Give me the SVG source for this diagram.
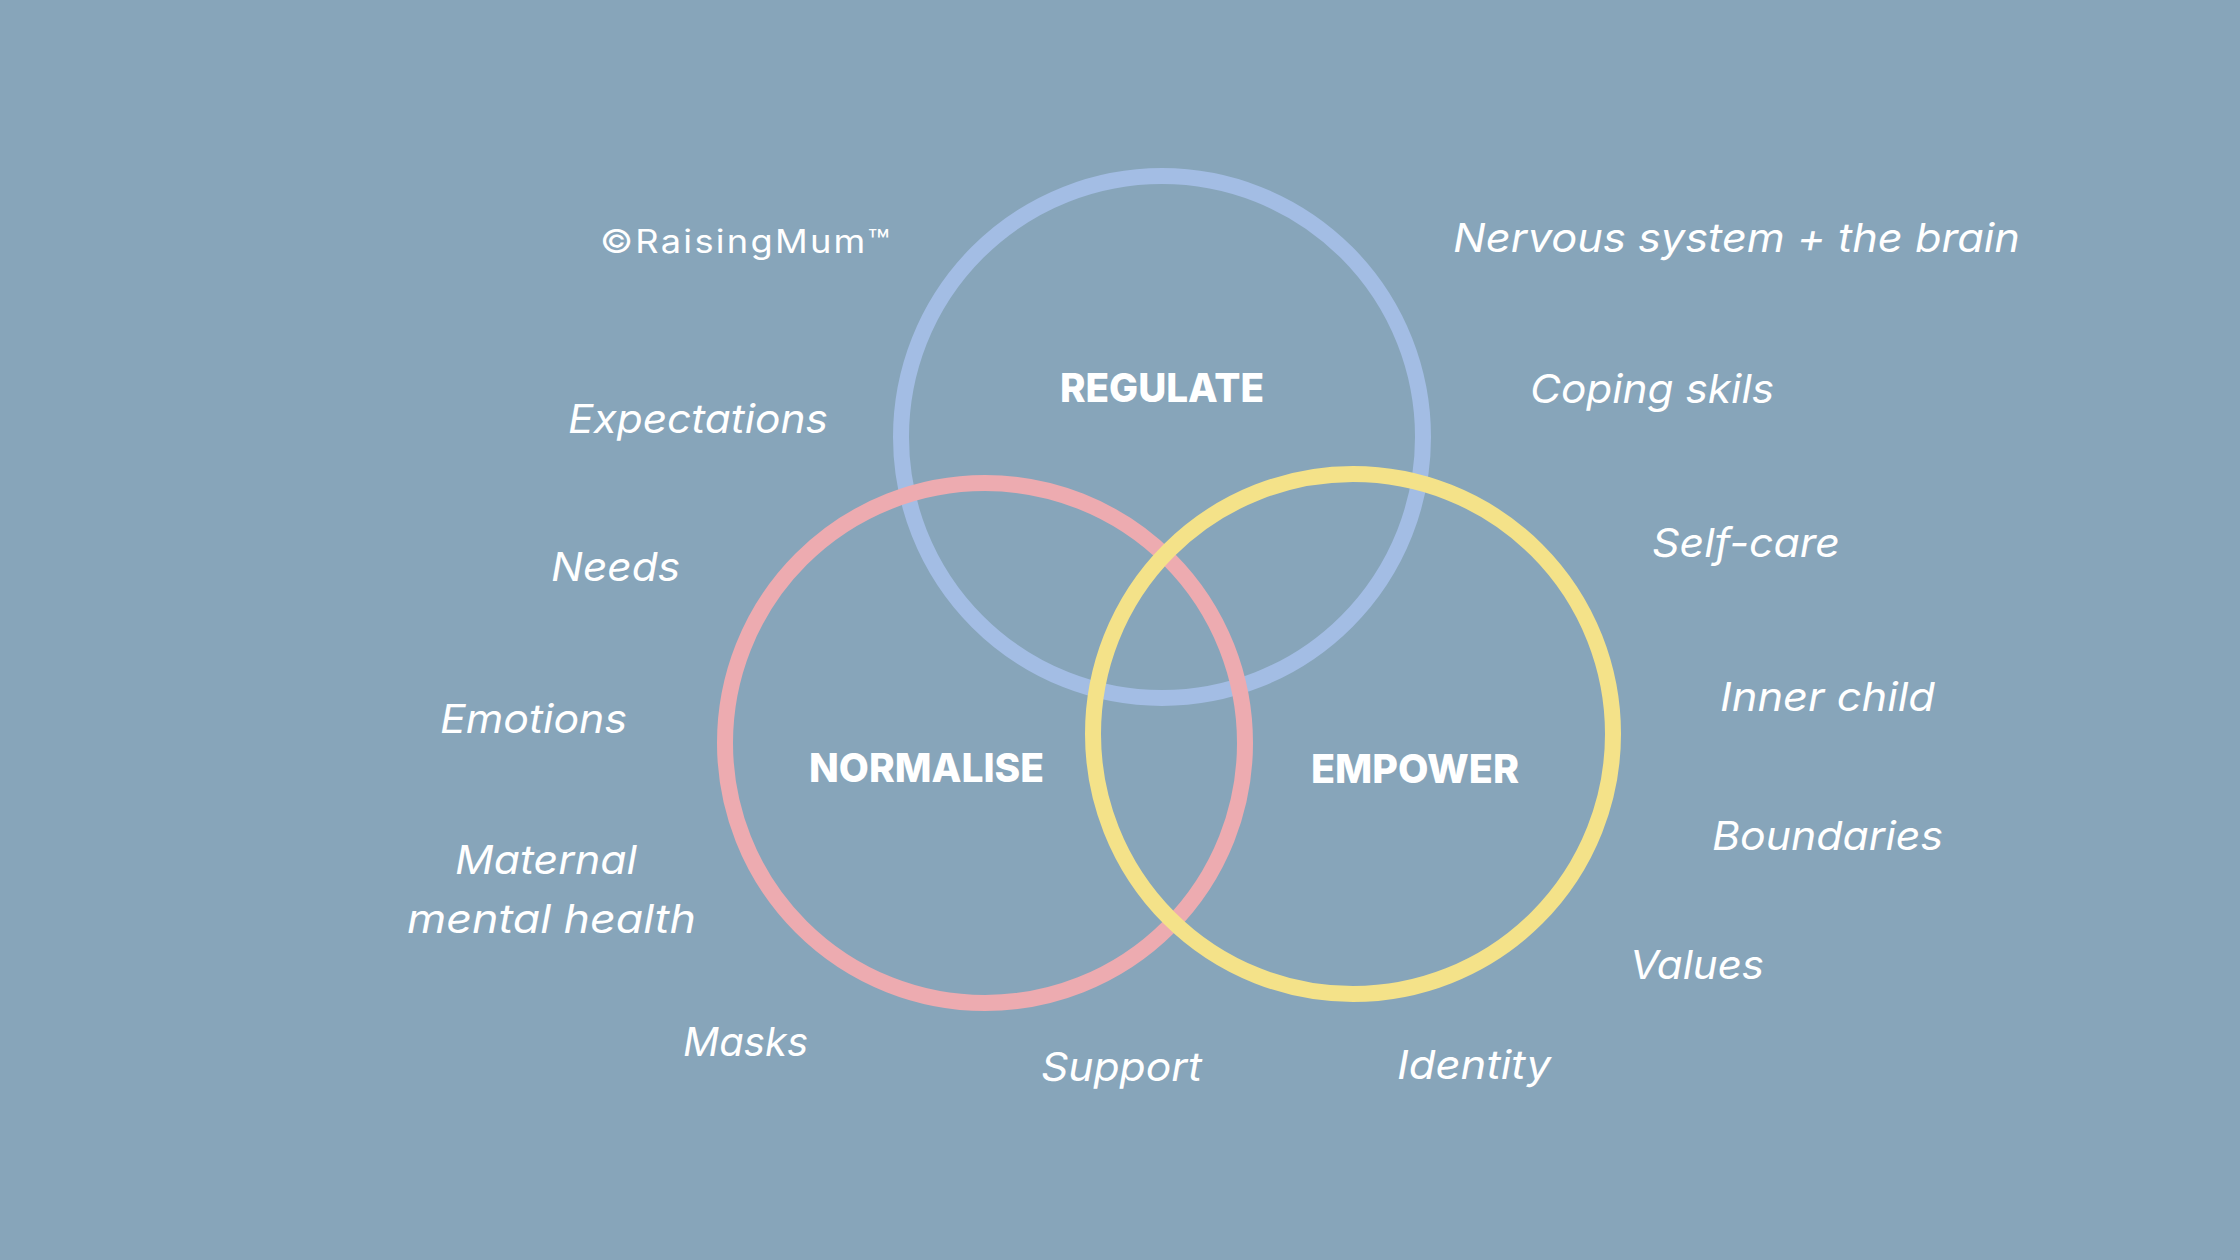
<svg xmlns="http://www.w3.org/2000/svg" width="2240" height="1260" viewBox="0 0 2240 1260">
  <style>
    .ring { fill: none; stroke-width: 16; }
    .lbl { font-family: Inter, "Noto Sans", "Liberation Sans", sans-serif; font-style: italic; font-weight: 400; font-size: 40px; fill: #ffffff; }
    .head { font-family: Inter, "Open Sans", "Liberation Sans", sans-serif; font-weight: 800; font-size: 40px; fill: #ffffff; }
    .copy { font-family: Inter, "Noto Sans", "Liberation Sans", sans-serif; font-weight: 400; font-size: 32px; letter-spacing: 2px; fill: #ffffff; }
  </style>
  <rect width="2240" height="1260" fill="#87A5BA"/>
  <g id="circles">
    <g id="regulate-circle"><circle class="ring" cx="1162" cy="437" r="261" stroke="#A3BDE4"/></g>
    <g id="normalise-circle"><circle class="ring" cx="985" cy="743" r="260" stroke="#EDABB0"/></g>
    <g id="empower-circle"><circle class="ring" cx="1353" cy="734" r="260" stroke="#F4E289"/></g>
  </g>
  <g id="headings">
    <g id="regulate"><text class="head" x="1060" y="402" textLength="204" lengthAdjust="spacingAndGlyphs">REGULATE</text></g>
    <g id="normalise"><text class="head" x="809" y="782" textLength="235" lengthAdjust="spacingAndGlyphs">NORMALISE</text></g>
    <g id="empower"><text class="head" x="1311" y="783" textLength="208" lengthAdjust="spacingAndGlyphs">EMPOWER</text></g>
  </g>
  <g id="copyright"><text class="copy" x="600" y="253" textLength="292" lengthAdjust="spacingAndGlyphs">©RaisingMum™</text></g>
  <g id="labels">
    <g id="l-expectations"><text class="lbl" x="568" y="433" textLength="260" lengthAdjust="spacingAndGlyphs">Expectations</text></g>
    <g id="l-needs"><text class="lbl" x="551" y="581" textLength="129" lengthAdjust="spacingAndGlyphs">Needs</text></g>
    <g id="l-emotions"><text class="lbl" x="440" y="733" textLength="187" lengthAdjust="spacingAndGlyphs">Emotions</text></g>
    <g id="l-maternal">
      <text class="lbl" x="455" y="874" textLength="182" lengthAdjust="spacingAndGlyphs">Maternal</text>
      <text class="lbl" x="407" y="933" textLength="289" lengthAdjust="spacingAndGlyphs">mental health</text>
    </g>
    <g id="l-masks"><text class="lbl" x="683" y="1056" textLength="125" lengthAdjust="spacingAndGlyphs">Masks</text></g>
    <g id="l-support"><text class="lbl" x="1041" y="1081" textLength="161" lengthAdjust="spacingAndGlyphs">Support</text></g>
    <g id="l-identity"><text class="lbl" x="1397" y="1079" textLength="154" lengthAdjust="spacingAndGlyphs">Identity</text></g>
    <g id="l-nervous"><text class="lbl" x="1453" y="252" textLength="567" lengthAdjust="spacingAndGlyphs">Nervous system + the brain</text></g>
    <g id="l-coping"><text class="lbl" x="1530" y="403" textLength="244" lengthAdjust="spacingAndGlyphs">Coping skils</text></g>
    <g id="l-selfcare"><text class="lbl" x="1652" y="557" textLength="188" lengthAdjust="spacingAndGlyphs">Self-care</text></g>
    <g id="l-innerchild"><text class="lbl" x="1720" y="711" textLength="215" lengthAdjust="spacingAndGlyphs">Inner child</text></g>
    <g id="l-boundaries"><text class="lbl" x="1712" y="850" textLength="231" lengthAdjust="spacingAndGlyphs">Boundaries</text></g>
    <g id="l-values"><text class="lbl" x="1630" y="979" textLength="134" lengthAdjust="spacingAndGlyphs">Values</text></g>
  </g>
</svg>
